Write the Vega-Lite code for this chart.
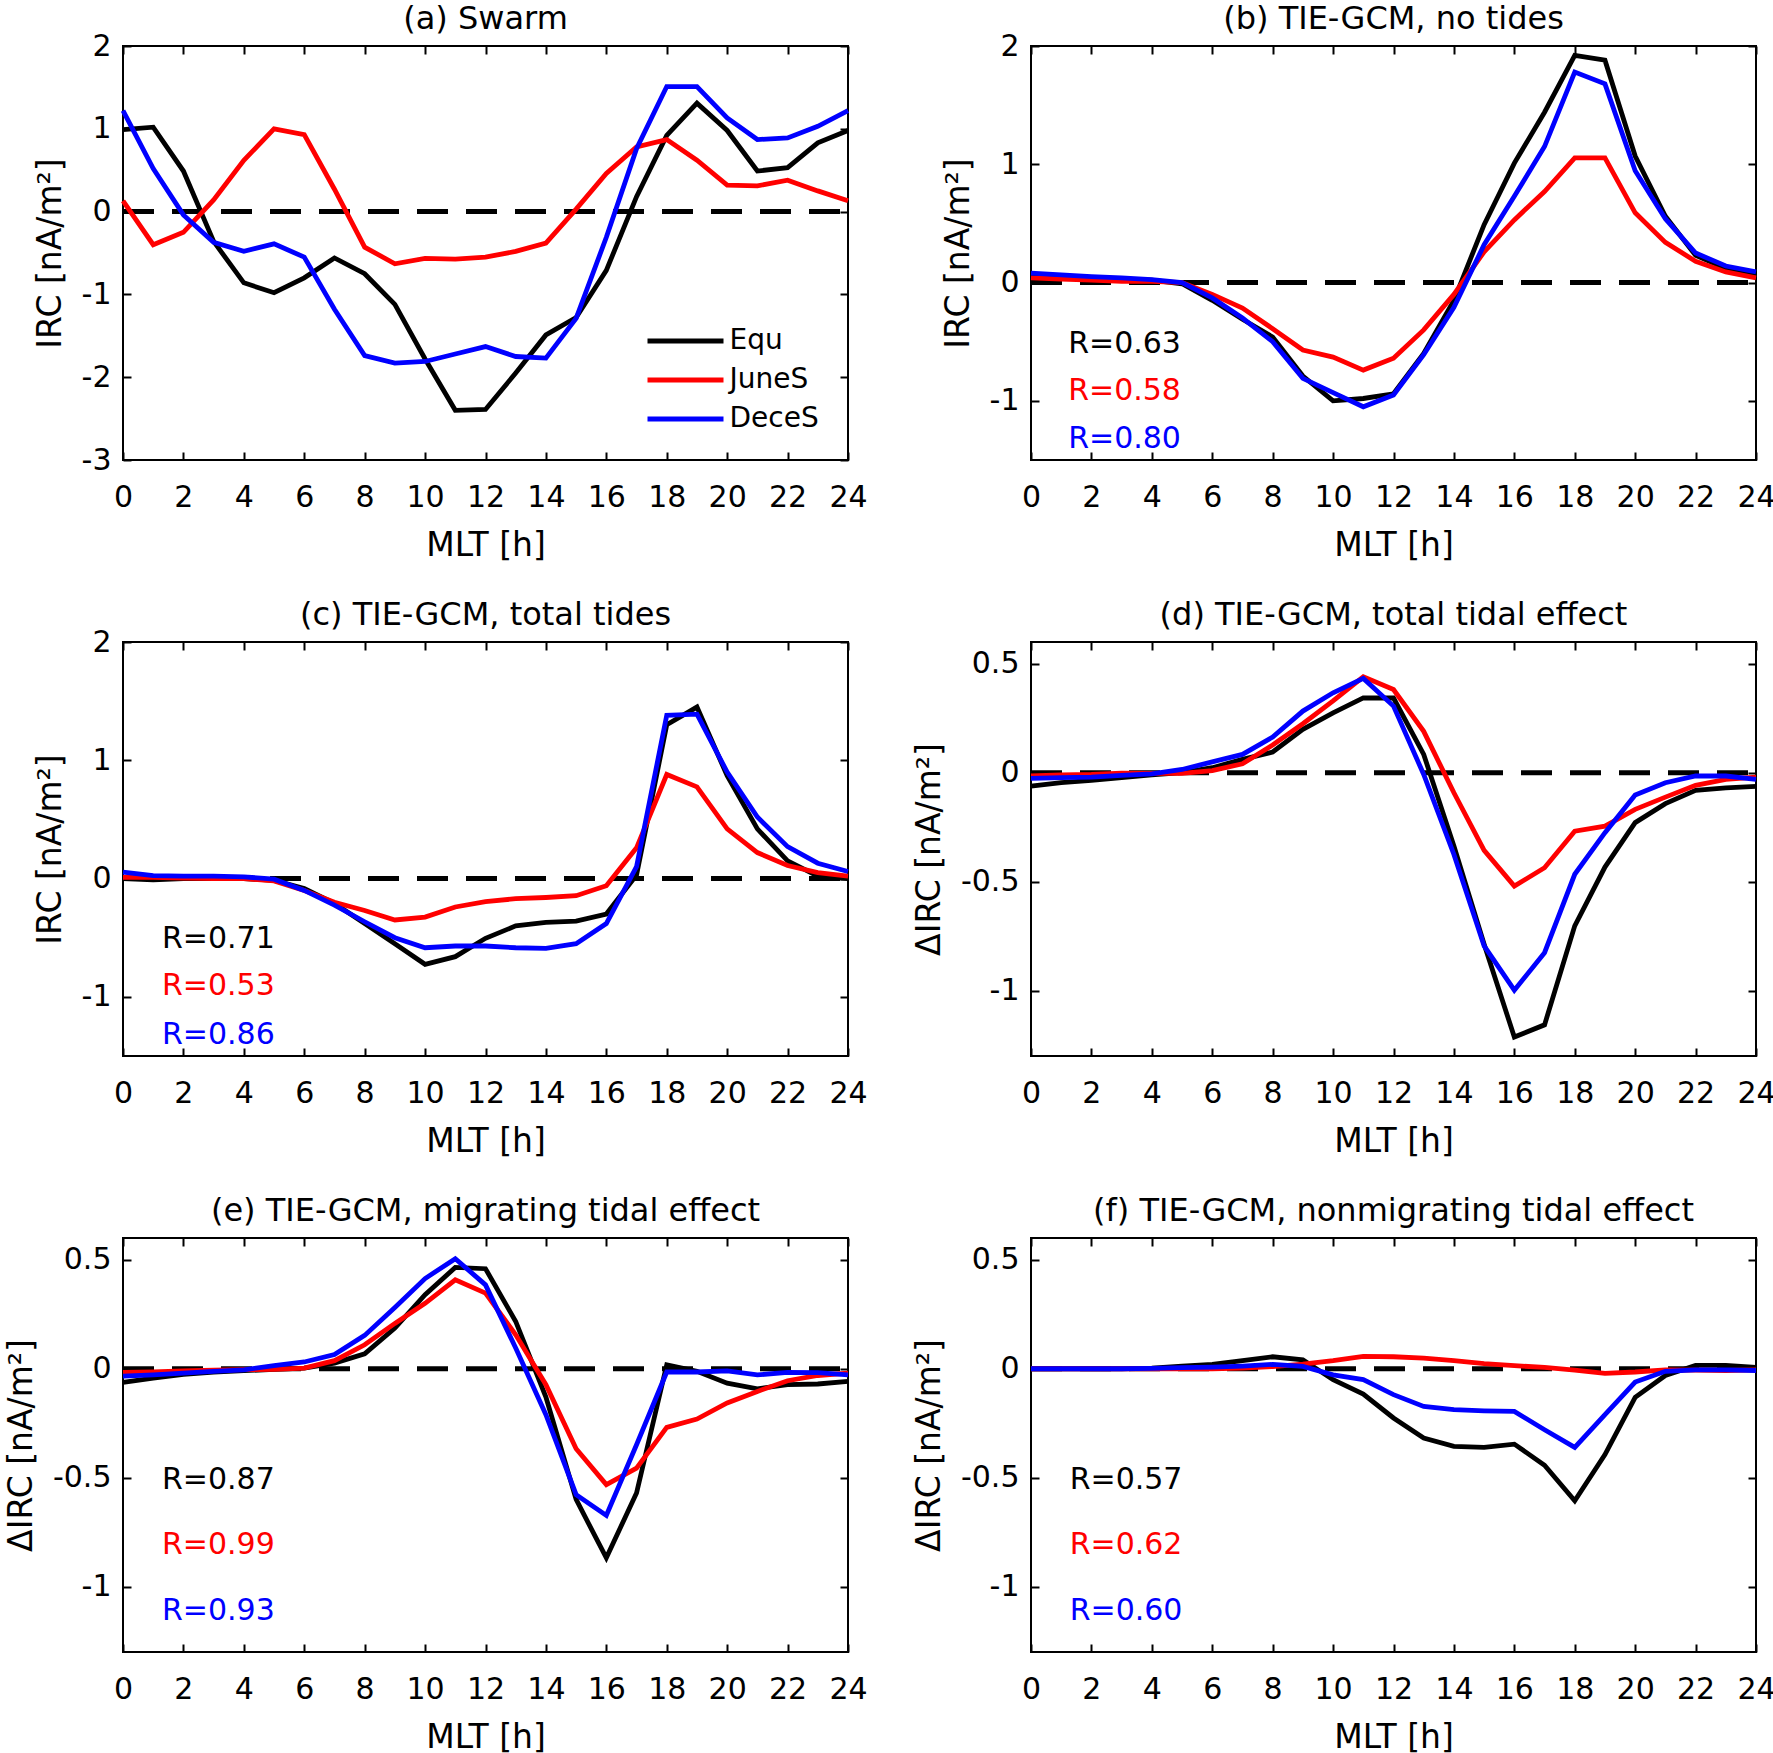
{
  "$schema": "https://vega.github.io/schema/vega-lite/v6.json",
  "background": "white",
  "padding": {"left": 4, "top": 2, "right": 0, "bottom": 2},
  "config": {
    "font": "DejaVu Sans",
    "view": {"stroke": "black", "strokeWidth": 2},
    "axis": {
      "domain": false, "grid": false, "ticks": true, "tickColor": "black", "tickWidth": 2, "tickSize": -8,
      "labelColor": "black", "labelFontSize": 30, "labelFont": "DejaVu Sans", "labelFlush": false, "labelOverlap": false,
      "titleFont": "DejaVu Sans", "titleFontSize": 33, "titleFontWeight": "normal", "titleColor": "black"
    },
    "axisX": {"labelPadding": 30, "titlePadding": 17},
    "axisY": {"labelPadding": 20, "titlePadding": 14},
    "title": {"fontSize": 32, "fontWeight": "normal", "color": "black", "baseline": "alphabetic", "frame": "group", "anchor": "middle", "font": "DejaVu Sans"},
    "legend": {"labelFont": "DejaVu Sans"}
  },
  "datasets": {
    "irc": [
      {"p":"a","h":0,"Equ":0.99,"JuneS":0.13,"DeceS":1.22},
      {"p":"a","h":1,"Equ":1.02,"JuneS":-0.40,"DeceS":0.52},
      {"p":"a","h":2,"Equ":0.49,"JuneS":-0.25,"DeceS":-0.04},
      {"p":"a","h":3,"Equ":-0.36,"JuneS":0.14,"DeceS":-0.37},
      {"p":"a","h":4,"Equ":-0.86,"JuneS":0.62,"DeceS":-0.48},
      {"p":"a","h":5,"Equ":-0.98,"JuneS":1.00,"DeceS":-0.39},
      {"p":"a","h":6,"Equ":-0.80,"JuneS":0.93,"DeceS":-0.55},
      {"p":"a","h":7,"Equ":-0.56,"JuneS":0.27,"DeceS":-1.18},
      {"p":"a","h":8,"Equ":-0.75,"JuneS":-0.43,"DeceS":-1.74},
      {"p":"a","h":9,"Equ":-1.12,"JuneS":-0.63,"DeceS":-1.83},
      {"p":"a","h":10,"Equ":-1.78,"JuneS":-0.565,"DeceS":-1.81},
      {"p":"a","h":11,"Equ":-2.40,"JuneS":-0.575,"DeceS":-1.72},
      {"p":"a","h":12,"Equ":-2.39,"JuneS":-0.55,"DeceS":-1.63},
      {"p":"a","h":13,"Equ":-1.95,"JuneS":-0.48,"DeceS":-1.75},
      {"p":"a","h":14,"Equ":-1.49,"JuneS":-0.38,"DeceS":-1.77},
      {"p":"a","h":15,"Equ":-1.28,"JuneS":0.03,"DeceS":-1.29},
      {"p":"a","h":16,"Equ":-0.71,"JuneS":0.46,"DeceS":-0.31},
      {"p":"a","h":17,"Equ":0.18,"JuneS":0.78,"DeceS":0.76},
      {"p":"a","h":18,"Equ":0.92,"JuneS":0.87,"DeceS":1.51},
      {"p":"a","h":19,"Equ":1.31,"JuneS":0.62,"DeceS":1.51},
      {"p":"a","h":20,"Equ":0.98,"JuneS":0.32,"DeceS":1.13},
      {"p":"a","h":21,"Equ":0.49,"JuneS":0.31,"DeceS":0.87},
      {"p":"a","h":22,"Equ":0.53,"JuneS":0.38,"DeceS":0.89},
      {"p":"a","h":23,"Equ":0.83,"JuneS":0.25,"DeceS":1.03},
      {"p":"a","h":24,"Equ":0.98,"JuneS":0.13,"DeceS":1.22},

      {"p":"b","h":0,"Equ":0.06,"JuneS":0.04,"DeceS":0.08},
      {"p":"b","h":1,"Equ":0.05,"JuneS":0.03,"DeceS":0.065},
      {"p":"b","h":2,"Equ":0.04,"JuneS":0.02,"DeceS":0.05},
      {"p":"b","h":3,"Equ":0.03,"JuneS":0.01,"DeceS":0.04},
      {"p":"b","h":4,"Equ":0.02,"JuneS":0.01,"DeceS":0.025},
      {"p":"b","h":5,"Equ":-0.01,"JuneS":0.0,"DeceS":0.0},
      {"p":"b","h":6,"Equ":-0.15,"JuneS":-0.10,"DeceS":-0.13},
      {"p":"b","h":7,"Equ":-0.31,"JuneS":-0.215,"DeceS":-0.30},
      {"p":"b","h":8,"Equ":-0.46,"JuneS":-0.39,"DeceS":-0.50},
      {"p":"b","h":9,"Equ":-0.79,"JuneS":-0.57,"DeceS":-0.81},
      {"p":"b","h":10,"Equ":-1.00,"JuneS":-0.63,"DeceS":-0.93},
      {"p":"b","h":11,"Equ":-0.98,"JuneS":-0.74,"DeceS":-1.05},
      {"p":"b","h":12,"Equ":-0.94,"JuneS":-0.64,"DeceS":-0.95},
      {"p":"b","h":13,"Equ":-0.60,"JuneS":-0.40,"DeceS":-0.61},
      {"p":"b","h":14,"Equ":-0.15,"JuneS":-0.10,"DeceS":-0.21},
      {"p":"b","h":15,"Equ":0.49,"JuneS":0.26,"DeceS":0.32},
      {"p":"b","h":16,"Equ":1.01,"JuneS":0.53,"DeceS":0.73},
      {"p":"b","h":17,"Equ":1.44,"JuneS":0.77,"DeceS":1.15},
      {"p":"b","h":18,"Equ":1.92,"JuneS":1.055,"DeceS":1.78},
      {"p":"b","h":19,"Equ":1.88,"JuneS":1.055,"DeceS":1.68},
      {"p":"b","h":20,"Equ":1.07,"JuneS":0.59,"DeceS":0.945},
      {"p":"b","h":21,"Equ":0.56,"JuneS":0.34,"DeceS":0.54},
      {"p":"b","h":22,"Equ":0.23,"JuneS":0.18,"DeceS":0.25},
      {"p":"b","h":23,"Equ":0.12,"JuneS":0.09,"DeceS":0.14},
      {"p":"b","h":24,"Equ":0.06,"JuneS":0.04,"DeceS":0.09},

      {"p":"c","h":0,"Equ":0.0,"JuneS":0.01,"DeceS":0.055},
      {"p":"c","h":1,"Equ":-0.01,"JuneS":0.01,"DeceS":0.025},
      {"p":"c","h":2,"Equ":0.0,"JuneS":0.005,"DeceS":0.02},
      {"p":"c","h":3,"Equ":0.0,"JuneS":0.0,"DeceS":0.02},
      {"p":"c","h":4,"Equ":0.0,"JuneS":0.0,"DeceS":0.015},
      {"p":"c","h":5,"Equ":-0.015,"JuneS":-0.02,"DeceS":-0.005},
      {"p":"c","h":6,"Equ":-0.085,"JuneS":-0.10,"DeceS":-0.10},
      {"p":"c","h":7,"Equ":-0.21,"JuneS":-0.20,"DeceS":-0.225},
      {"p":"c","h":8,"Equ":-0.38,"JuneS":-0.27,"DeceS":-0.365},
      {"p":"c","h":9,"Equ":-0.55,"JuneS":-0.35,"DeceS":-0.50},
      {"p":"c","h":10,"Equ":-0.725,"JuneS":-0.325,"DeceS":-0.585},
      {"p":"c","h":11,"Equ":-0.66,"JuneS":-0.24,"DeceS":-0.57},
      {"p":"c","h":12,"Equ":-0.505,"JuneS":-0.195,"DeceS":-0.57},
      {"p":"c","h":13,"Equ":-0.40,"JuneS":-0.17,"DeceS":-0.585},
      {"p":"c","h":14,"Equ":-0.37,"JuneS":-0.16,"DeceS":-0.59},
      {"p":"c","h":15,"Equ":-0.36,"JuneS":-0.145,"DeceS":-0.55},
      {"p":"c","h":16,"Equ":-0.30,"JuneS":-0.06,"DeceS":-0.38},
      {"p":"c","h":17,"Equ":0.03,"JuneS":0.26,"DeceS":0.10},
      {"p":"c","h":18,"Equ":1.30,"JuneS":0.88,"DeceS":1.38},
      {"p":"c","h":19,"Equ":1.45,"JuneS":0.775,"DeceS":1.39},
      {"p":"c","h":20,"Equ":0.87,"JuneS":0.42,"DeceS":0.90},
      {"p":"c","h":21,"Equ":0.42,"JuneS":0.22,"DeceS":0.52},
      {"p":"c","h":22,"Equ":0.15,"JuneS":0.11,"DeceS":0.27},
      {"p":"c","h":23,"Equ":0.02,"JuneS":0.05,"DeceS":0.13},
      {"p":"c","h":24,"Equ":0.0,"JuneS":0.02,"DeceS":0.06},

      {"p":"d","h":0,"Equ":-0.061,"JuneS":-0.015,"DeceS":-0.026},
      {"p":"d","h":1,"Equ":-0.045,"JuneS":-0.01,"DeceS":-0.022},
      {"p":"d","h":2,"Equ":-0.035,"JuneS":-0.008,"DeceS":-0.02},
      {"p":"d","h":3,"Equ":-0.022,"JuneS":-0.002,"DeceS":-0.012},
      {"p":"d","h":4,"Equ":-0.01,"JuneS":-0.003,"DeceS":-0.005},
      {"p":"d","h":5,"Equ":0.0,"JuneS":-0.003,"DeceS":0.015},
      {"p":"d","h":6,"Equ":0.023,"JuneS":0.01,"DeceS":0.05},
      {"p":"d","h":7,"Equ":0.061,"JuneS":0.041,"DeceS":0.084},
      {"p":"d","h":8,"Equ":0.095,"JuneS":0.127,"DeceS":0.164},
      {"p":"d","h":9,"Equ":0.199,"JuneS":0.225,"DeceS":0.283},
      {"p":"d","h":10,"Equ":0.275,"JuneS":0.33,"DeceS":0.367},
      {"p":"d","h":11,"Equ":0.344,"JuneS":0.44,"DeceS":0.433},
      {"p":"d","h":12,"Equ":0.343,"JuneS":0.382,"DeceS":0.306},
      {"p":"d","h":13,"Equ":0.084,"JuneS":0.19,"DeceS":-0.008},
      {"p":"d","h":14,"Equ":-0.336,"JuneS":-0.092,"DeceS":-0.375},
      {"p":"d","h":15,"Equ":-0.787,"JuneS":-0.356,"DeceS":-0.795},
      {"p":"d","h":16,"Equ":-1.213,"JuneS":-0.52,"DeceS":-0.998},
      {"p":"d","h":17,"Equ":-1.157,"JuneS":-0.436,"DeceS":-0.826},
      {"p":"d","h":18,"Equ":-0.703,"JuneS":-0.268,"DeceS":-0.466},
      {"p":"d","h":19,"Equ":-0.433,"JuneS":-0.245,"DeceS":-0.275},
      {"p":"d","h":20,"Equ":-0.229,"JuneS":-0.168,"DeceS":-0.102},
      {"p":"d","h":21,"Equ":-0.142,"JuneS":-0.112,"DeceS":-0.046},
      {"p":"d","h":22,"Equ":-0.081,"JuneS":-0.058,"DeceS":-0.015},
      {"p":"d","h":23,"Equ":-0.069,"JuneS":-0.03,"DeceS":-0.015},
      {"p":"d","h":24,"Equ":-0.063,"JuneS":-0.02,"DeceS":-0.03},

      {"p":"e","h":0,"Equ":-0.063,"JuneS":-0.017,"DeceS":-0.034},
      {"p":"e","h":1,"Equ":-0.043,"JuneS":-0.014,"DeceS":-0.028},
      {"p":"e","h":2,"Equ":-0.026,"JuneS":-0.01,"DeceS":-0.02},
      {"p":"e","h":3,"Equ":-0.015,"JuneS":-0.006,"DeceS":-0.012},
      {"p":"e","h":4,"Equ":-0.009,"JuneS":-0.004,"DeceS":-0.005},
      {"p":"e","h":5,"Equ":-0.003,"JuneS":-0.003,"DeceS":0.014},
      {"p":"e","h":6,"Equ":0.003,"JuneS":0.003,"DeceS":0.031},
      {"p":"e","h":7,"Equ":0.026,"JuneS":0.037,"DeceS":0.065},
      {"p":"e","h":8,"Equ":0.068,"JuneS":0.11,"DeceS":0.153},
      {"p":"e","h":9,"Equ":0.187,"JuneS":0.208,"DeceS":0.281},
      {"p":"e","h":10,"Equ":0.34,"JuneS":0.30,"DeceS":0.414},
      {"p":"e","h":11,"Equ":0.465,"JuneS":0.408,"DeceS":0.505},
      {"p":"e","h":12,"Equ":0.459,"JuneS":0.347,"DeceS":0.385},
      {"p":"e","h":13,"Equ":0.217,"JuneS":0.156,"DeceS":0.095},
      {"p":"e","h":14,"Equ":-0.13,"JuneS":-0.073,"DeceS":-0.211},
      {"p":"e","h":15,"Equ":-0.60,"JuneS":-0.367,"DeceS":-0.578},
      {"p":"e","h":16,"Equ":-0.868,"JuneS":-0.532,"DeceS":-0.673},
      {"p":"e","h":17,"Equ":-0.57,"JuneS":-0.456,"DeceS":-0.349},
      {"p":"e","h":18,"Equ":0.018,"JuneS":-0.269,"DeceS":-0.015},
      {"p":"e","h":19,"Equ":-0.012,"JuneS":-0.231,"DeceS":-0.015},
      {"p":"e","h":20,"Equ":-0.066,"JuneS":-0.157,"DeceS":-0.01},
      {"p":"e","h":21,"Equ":-0.092,"JuneS":-0.104,"DeceS":-0.028},
      {"p":"e","h":22,"Equ":-0.073,"JuneS":-0.055,"DeceS":-0.017},
      {"p":"e","h":23,"Equ":-0.07,"JuneS":-0.031,"DeceS":-0.018},
      {"p":"e","h":24,"Equ":-0.058,"JuneS":-0.02,"DeceS":-0.028},

      {"p":"f","h":0,"Equ":0.0,"JuneS":0.0,"DeceS":0.0},
      {"p":"f","h":1,"Equ":0.0,"JuneS":0.0,"DeceS":0.0},
      {"p":"f","h":2,"Equ":0.0,"JuneS":0.0,"DeceS":0.0},
      {"p":"f","h":3,"Equ":0.0,"JuneS":0.0,"DeceS":0.0},
      {"p":"f","h":4,"Equ":0.003,"JuneS":0.0,"DeceS":0.002},
      {"p":"f","h":5,"Equ":0.012,"JuneS":0.0,"DeceS":0.005},
      {"p":"f","h":6,"Equ":0.02,"JuneS":0.0,"DeceS":0.007},
      {"p":"f","h":7,"Equ":0.037,"JuneS":0.003,"DeceS":0.012},
      {"p":"f","h":8,"Equ":0.055,"JuneS":0.01,"DeceS":0.02},
      {"p":"f","h":9,"Equ":0.041,"JuneS":0.021,"DeceS":0.011},
      {"p":"f","h":10,"Equ":-0.05,"JuneS":0.037,"DeceS":-0.028},
      {"p":"f","h":11,"Equ":-0.116,"JuneS":0.057,"DeceS":-0.05},
      {"p":"f","h":12,"Equ":-0.226,"JuneS":0.055,"DeceS":-0.119},
      {"p":"f","h":13,"Equ":-0.318,"JuneS":0.049,"DeceS":-0.173},
      {"p":"f","h":14,"Equ":-0.356,"JuneS":0.037,"DeceS":-0.188},
      {"p":"f","h":15,"Equ":-0.361,"JuneS":0.023,"DeceS":-0.193},
      {"p":"f","h":16,"Equ":-0.346,"JuneS":0.014,"DeceS":-0.196},
      {"p":"f","h":17,"Equ":-0.443,"JuneS":0.006,"DeceS":-0.28},
      {"p":"f","h":18,"Equ":-0.606,"JuneS":-0.006,"DeceS":-0.361},
      {"p":"f","h":19,"Equ":-0.394,"JuneS":-0.021,"DeceS":-0.211},
      {"p":"f","h":20,"Equ":-0.131,"JuneS":-0.015,"DeceS":-0.061},
      {"p":"f","h":21,"Equ":-0.031,"JuneS":-0.005,"DeceS":-0.012},
      {"p":"f","h":22,"Equ":0.015,"JuneS":-0.006,"DeceS":-0.005},
      {"p":"f","h":23,"Equ":0.015,"JuneS":-0.008,"DeceS":-0.005},
      {"p":"f","h":24,"Equ":0.006,"JuneS":-0.005,"DeceS":-0.008}
    ]
  },
  "columns": 2,
  "spacing": {"row": 182, "column": 183},
  "bounds": "flush",
  "resolve": {"scale": {"x": "independent", "y": "independent", "color": "independent"}, "legend": {"color": "independent"}},
  "concat": [
    {
      "width": 725, "height": 414,
      "title": {"text": "(a) Swarm", "offset": -5},
      "data": {"name": "irc"},
      "transform": [{"filter": "datum.p == 'a'"}, {"fold": ["Equ", "JuneS", "DeceS"], "as": ["series", "val"]}],
      "resolve": {"axis": {"x": "independent", "y": "independent"}},
      "layer": [
        {
          "data": {"values": [{"ref": "zero"}]},
          "mark": {"type": "rule", "strokeDash": [31, 18], "strokeWidth": 5, "color": "black"},
          "encoding": {
            "x": {"datum": 0, "type": "quantitative", "scale": {"domain": [0, 24], "nice": false, "zero": false}, "axis": {"orient": "top", "labels": false, "title": null, "values": [0,2,4,6,8,10,12,14,16,18,20,22,24]}},
            "x2": {"datum": 24},
            "y": {"datum": 0, "type": "quantitative", "scale": {"domain": [-3, 2], "nice": false, "zero": false}, "axis": {"orient": "right", "labels": false, "title": null, "values": [-3,-2,-1,0,1,2]}}
          }
        },
        {
          "mark": {"type": "line", "strokeWidth": 4.8},
          "encoding": {
            "x": {"field": "h", "type": "quantitative", "scale": {"domain": [0, 24], "nice": false, "zero": false}, "axis": {"orient": "bottom", "title": "MLT [h]", "values": [0,2,4,6,8,10,12,14,16,18,20,22,24], "labelExpr": "datum.value"}},
            "y": {"field": "val", "type": "quantitative", "scale": {"domain": [-3, 2], "nice": false, "zero": false}, "axis": {"orient": "left", "title": "IRC [nA/m²]", "values": [-3,-2,-1,0,1,2], "labelExpr": "datum.value"}},
            "color": {"field": "series", "type": "nominal", "scale": {"domain": ["Equ", "JuneS", "DeceS"], "range": ["#000000", "#ff0000", "#0000ff"]},
              "legend": {"title": null, "orient": "none", "legendX": 522, "legendY": 281, "direction": "vertical", "symbolType": "stroke", "symbolSize": 5776, "symbolStrokeWidth": 4.8, "labelFontSize": 28, "labelColor": "black", "labelOffset": 3.5, "clipHeight": 28, "rowPadding": 11, "padding": 0}}
          }
        }
      ]
    },
    {
      "width": 725, "height": 414,
      "title": {"text": "(b) TIE-GCM, no tides", "offset": -5},
      "data": {"name": "irc"},
      "transform": [{"filter": "datum.p == 'b'"}, {"fold": ["Equ", "JuneS", "DeceS"], "as": ["series", "val"]}],
      "resolve": {"axis": {"x": "independent", "y": "independent"}},
      "layer": [
        {
          "data": {"values": [{"ref": "zero"}]},
          "mark": {"type": "rule", "strokeDash": [31, 18], "strokeWidth": 5, "color": "black"},
          "encoding": {
            "x": {"datum": 0, "type": "quantitative", "scale": {"domain": [0, 24], "nice": false, "zero": false}, "axis": {"orient": "top", "labels": false, "title": null, "values": [0,2,4,6,8,10,12,14,16,18,20,22,24]}},
            "x2": {"datum": 24},
            "y": {"datum": 0, "type": "quantitative", "scale": {"domain": [-1.5, 2], "nice": false, "zero": false}, "axis": {"orient": "right", "labels": false, "title": null, "values": [-1,0,1,2]}}
          }
        },
        {
          "mark": {"type": "line", "strokeWidth": 4.8},
          "encoding": {
            "x": {"field": "h", "type": "quantitative", "scale": {"domain": [0, 24], "nice": false, "zero": false}, "axis": {"orient": "bottom", "title": "MLT [h]", "values": [0,2,4,6,8,10,12,14,16,18,20,22,24], "labelExpr": "datum.value"}},
            "y": {"field": "val", "type": "quantitative", "scale": {"domain": [-1.5, 2], "nice": false, "zero": false}, "axis": {"orient": "left", "title": "IRC [nA/m²]", "values": [-1,0,1,2], "labelExpr": "datum.value"}},
            "color": {"field": "series", "type": "nominal", "scale": {"domain": ["Equ", "JuneS", "DeceS"], "range": ["#000000", "#ff0000", "#0000ff"]}, "legend": null}
          }
        },
        {
          "data": {"values": [{"label": "R=0.63"}]},
          "mark": {"type": "text", "align": "left", "baseline": "middle", "fontSize": 30, "color": "#000000"},
          "encoding": {"x": {"datum": 1.23, "type": "quantitative", "axis": null}, "y": {"datum": -0.52, "type": "quantitative", "axis": null}, "text": {"field": "label"}}
        },
        {
          "data": {"values": [{"label": "R=0.58"}]},
          "mark": {"type": "text", "align": "left", "baseline": "middle", "fontSize": 30, "color": "#ff0000"},
          "encoding": {"x": {"datum": 1.23, "type": "quantitative", "axis": null}, "y": {"datum": -0.92, "type": "quantitative", "axis": null}, "text": {"field": "label"}}
        },
        {
          "data": {"values": [{"label": "R=0.80"}]},
          "mark": {"type": "text", "align": "left", "baseline": "middle", "fontSize": 30, "color": "#0000ff"},
          "encoding": {"x": {"datum": 1.23, "type": "quantitative", "axis": null}, "y": {"datum": -1.32, "type": "quantitative", "axis": null}, "text": {"field": "label"}}
        }
      ]
    },
    {
      "width": 725, "height": 414,
      "title": {"text": "(c) TIE-GCM, total tides", "offset": -5},
      "data": {"name": "irc"},
      "transform": [{"filter": "datum.p == 'c'"}, {"fold": ["Equ", "JuneS", "DeceS"], "as": ["series", "val"]}],
      "resolve": {"axis": {"x": "independent", "y": "independent"}},
      "layer": [
        {
          "data": {"values": [{"ref": "zero"}]},
          "mark": {"type": "rule", "strokeDash": [31, 18], "strokeWidth": 5, "color": "black"},
          "encoding": {
            "x": {"datum": 0, "type": "quantitative", "scale": {"domain": [0, 24], "nice": false, "zero": false}, "axis": {"orient": "top", "labels": false, "title": null, "values": [0,2,4,6,8,10,12,14,16,18,20,22,24]}},
            "x2": {"datum": 24},
            "y": {"datum": 0, "type": "quantitative", "scale": {"domain": [-1.5, 2], "nice": false, "zero": false}, "axis": {"orient": "right", "labels": false, "title": null, "values": [-1,0,1,2]}}
          }
        },
        {
          "mark": {"type": "line", "strokeWidth": 4.8},
          "encoding": {
            "x": {"field": "h", "type": "quantitative", "scale": {"domain": [0, 24], "nice": false, "zero": false}, "axis": {"orient": "bottom", "title": "MLT [h]", "values": [0,2,4,6,8,10,12,14,16,18,20,22,24], "labelExpr": "datum.value"}},
            "y": {"field": "val", "type": "quantitative", "scale": {"domain": [-1.5, 2], "nice": false, "zero": false}, "axis": {"orient": "left", "title": "IRC [nA/m²]", "values": [-1,0,1,2], "labelExpr": "datum.value"}},
            "color": {"field": "series", "type": "nominal", "scale": {"domain": ["Equ", "JuneS", "DeceS"], "range": ["#000000", "#ff0000", "#0000ff"]}, "legend": null}
          }
        },
        {
          "data": {"values": [{"label": "R=0.71"}]},
          "mark": {"type": "text", "align": "left", "baseline": "middle", "fontSize": 30, "color": "#000000"},
          "encoding": {"x": {"datum": 1.29, "type": "quantitative", "axis": null}, "y": {"datum": -0.51, "type": "quantitative", "axis": null}, "text": {"field": "label"}}
        },
        {
          "data": {"values": [{"label": "R=0.53"}]},
          "mark": {"type": "text", "align": "left", "baseline": "middle", "fontSize": 30, "color": "#ff0000"},
          "encoding": {"x": {"datum": 1.29, "type": "quantitative", "axis": null}, "y": {"datum": -0.91, "type": "quantitative", "axis": null}, "text": {"field": "label"}}
        },
        {
          "data": {"values": [{"label": "R=0.86"}]},
          "mark": {"type": "text", "align": "left", "baseline": "middle", "fontSize": 30, "color": "#0000ff"},
          "encoding": {"x": {"datum": 1.29, "type": "quantitative", "axis": null}, "y": {"datum": -1.32, "type": "quantitative", "axis": null}, "text": {"field": "label"}}
        }
      ]
    },
    {
      "width": 725, "height": 414,
      "title": {"text": "(d) TIE-GCM, total tidal effect", "offset": 9},
      "data": {"name": "irc"},
      "transform": [{"filter": "datum.p == 'd'"}, {"fold": ["Equ", "JuneS", "DeceS"], "as": ["series", "val"]}],
      "resolve": {"axis": {"x": "independent", "y": "independent"}},
      "layer": [
        {
          "data": {"values": [{"ref": "zero"}]},
          "mark": {"type": "rule", "strokeDash": [31, 18], "strokeWidth": 5, "color": "black"},
          "encoding": {
            "x": {"datum": 0, "type": "quantitative", "scale": {"domain": [0, 24], "nice": false, "zero": false}, "axis": {"orient": "top", "labels": false, "title": null, "values": [0,2,4,6,8,10,12,14,16,18,20,22,24]}},
            "x2": {"datum": 24},
            "y": {"datum": 0, "type": "quantitative", "scale": {"domain": [-1.3, 0.6], "nice": false, "zero": false}, "axis": {"orient": "right", "labels": false, "title": null, "values": [-1,-0.5,0,0.5]}}
          }
        },
        {
          "mark": {"type": "line", "strokeWidth": 4.8},
          "encoding": {
            "x": {"field": "h", "type": "quantitative", "scale": {"domain": [0, 24], "nice": false, "zero": false}, "axis": {"orient": "bottom", "title": "MLT [h]", "values": [0,2,4,6,8,10,12,14,16,18,20,22,24], "labelExpr": "datum.value"}},
            "y": {"field": "val", "type": "quantitative", "scale": {"domain": [-1.3, 0.6], "nice": false, "zero": false}, "axis": {"orient": "left", "title": "ΔIRC [nA/m²]", "values": [-1,-0.5,0,0.5], "labelExpr": "datum.value"}},
            "color": {"field": "series", "type": "nominal", "scale": {"domain": ["Equ", "JuneS", "DeceS"], "range": ["#000000", "#ff0000", "#0000ff"]}, "legend": null}
          }
        }
      ]
    },
    {
      "width": 725, "height": 414,
      "title": {"text": "(e) TIE-GCM, migrating tidal effect", "offset": 9},
      "data": {"name": "irc"},
      "transform": [{"filter": "datum.p == 'e'"}, {"fold": ["Equ", "JuneS", "DeceS"], "as": ["series", "val"]}],
      "resolve": {"axis": {"x": "independent", "y": "independent"}},
      "layer": [
        {
          "data": {"values": [{"ref": "zero"}]},
          "mark": {"type": "rule", "strokeDash": [31, 18], "strokeWidth": 5, "color": "black"},
          "encoding": {
            "x": {"datum": 0, "type": "quantitative", "scale": {"domain": [0, 24], "nice": false, "zero": false}, "axis": {"orient": "top", "labels": false, "title": null, "values": [0,2,4,6,8,10,12,14,16,18,20,22,24]}},
            "x2": {"datum": 24},
            "y": {"datum": 0, "type": "quantitative", "scale": {"domain": [-1.3, 0.6], "nice": false, "zero": false}, "axis": {"orient": "right", "labels": false, "title": null, "values": [-1,-0.5,0,0.5]}}
          }
        },
        {
          "mark": {"type": "line", "strokeWidth": 4.8},
          "encoding": {
            "x": {"field": "h", "type": "quantitative", "scale": {"domain": [0, 24], "nice": false, "zero": false}, "axis": {"orient": "bottom", "title": "MLT [h]", "values": [0,2,4,6,8,10,12,14,16,18,20,22,24], "labelExpr": "datum.value"}},
            "y": {"field": "val", "type": "quantitative", "scale": {"domain": [-1.3, 0.6], "nice": false, "zero": false}, "axis": {"orient": "left", "title": "ΔIRC [nA/m²]", "values": [-1,-0.5,0,0.5], "labelExpr": "datum.value"}},
            "color": {"field": "series", "type": "nominal", "scale": {"domain": ["Equ", "JuneS", "DeceS"], "range": ["#000000", "#ff0000", "#0000ff"]}, "legend": null}
          }
        },
        {
          "data": {"values": [{"label": "R=0.87"}]},
          "mark": {"type": "text", "align": "left", "baseline": "middle", "fontSize": 30, "color": "#000000"},
          "encoding": {"x": {"datum": 1.29, "type": "quantitative", "axis": null}, "y": {"datum": -0.51, "type": "quantitative", "axis": null}, "text": {"field": "label"}}
        },
        {
          "data": {"values": [{"label": "R=0.99"}]},
          "mark": {"type": "text", "align": "left", "baseline": "middle", "fontSize": 30, "color": "#ff0000"},
          "encoding": {"x": {"datum": 1.29, "type": "quantitative", "axis": null}, "y": {"datum": -0.81, "type": "quantitative", "axis": null}, "text": {"field": "label"}}
        },
        {
          "data": {"values": [{"label": "R=0.93"}]},
          "mark": {"type": "text", "align": "left", "baseline": "middle", "fontSize": 30, "color": "#0000ff"},
          "encoding": {"x": {"datum": 1.29, "type": "quantitative", "axis": null}, "y": {"datum": -1.11, "type": "quantitative", "axis": null}, "text": {"field": "label"}}
        }
      ]
    },
    {
      "width": 725, "height": 414,
      "title": {"text": "(f) TIE-GCM, nonmigrating tidal effect", "offset": 9},
      "data": {"name": "irc"},
      "transform": [{"filter": "datum.p == 'f'"}, {"fold": ["Equ", "JuneS", "DeceS"], "as": ["series", "val"]}],
      "resolve": {"axis": {"x": "independent", "y": "independent"}},
      "layer": [
        {
          "data": {"values": [{"ref": "zero"}]},
          "mark": {"type": "rule", "strokeDash": [31, 18], "strokeWidth": 5, "color": "black"},
          "encoding": {
            "x": {"datum": 0, "type": "quantitative", "scale": {"domain": [0, 24], "nice": false, "zero": false}, "axis": {"orient": "top", "labels": false, "title": null, "values": [0,2,4,6,8,10,12,14,16,18,20,22,24]}},
            "x2": {"datum": 24},
            "y": {"datum": 0, "type": "quantitative", "scale": {"domain": [-1.3, 0.6], "nice": false, "zero": false}, "axis": {"orient": "right", "labels": false, "title": null, "values": [-1,-0.5,0,0.5]}}
          }
        },
        {
          "mark": {"type": "line", "strokeWidth": 4.8},
          "encoding": {
            "x": {"field": "h", "type": "quantitative", "scale": {"domain": [0, 24], "nice": false, "zero": false}, "axis": {"orient": "bottom", "title": "MLT [h]", "values": [0,2,4,6,8,10,12,14,16,18,20,22,24], "labelExpr": "datum.value"}},
            "y": {"field": "val", "type": "quantitative", "scale": {"domain": [-1.3, 0.6], "nice": false, "zero": false}, "axis": {"orient": "left", "title": "ΔIRC [nA/m²]", "values": [-1,-0.5,0,0.5], "labelExpr": "datum.value"}},
            "color": {"field": "series", "type": "nominal", "scale": {"domain": ["Equ", "JuneS", "DeceS"], "range": ["#000000", "#ff0000", "#0000ff"]}, "legend": null}
          }
        },
        {
          "data": {"values": [{"label": "R=0.57"}]},
          "mark": {"type": "text", "align": "left", "baseline": "middle", "fontSize": 30, "color": "#000000"},
          "encoding": {"x": {"datum": 1.28, "type": "quantitative", "axis": null}, "y": {"datum": -0.51, "type": "quantitative", "axis": null}, "text": {"field": "label"}}
        },
        {
          "data": {"values": [{"label": "R=0.62"}]},
          "mark": {"type": "text", "align": "left", "baseline": "middle", "fontSize": 30, "color": "#ff0000"},
          "encoding": {"x": {"datum": 1.28, "type": "quantitative", "axis": null}, "y": {"datum": -0.81, "type": "quantitative", "axis": null}, "text": {"field": "label"}}
        },
        {
          "data": {"values": [{"label": "R=0.60"}]},
          "mark": {"type": "text", "align": "left", "baseline": "middle", "fontSize": 30, "color": "#0000ff"},
          "encoding": {"x": {"datum": 1.28, "type": "quantitative", "axis": null}, "y": {"datum": -1.11, "type": "quantitative", "axis": null}, "text": {"field": "label"}}
        }
      ]
    }
  ]
}
